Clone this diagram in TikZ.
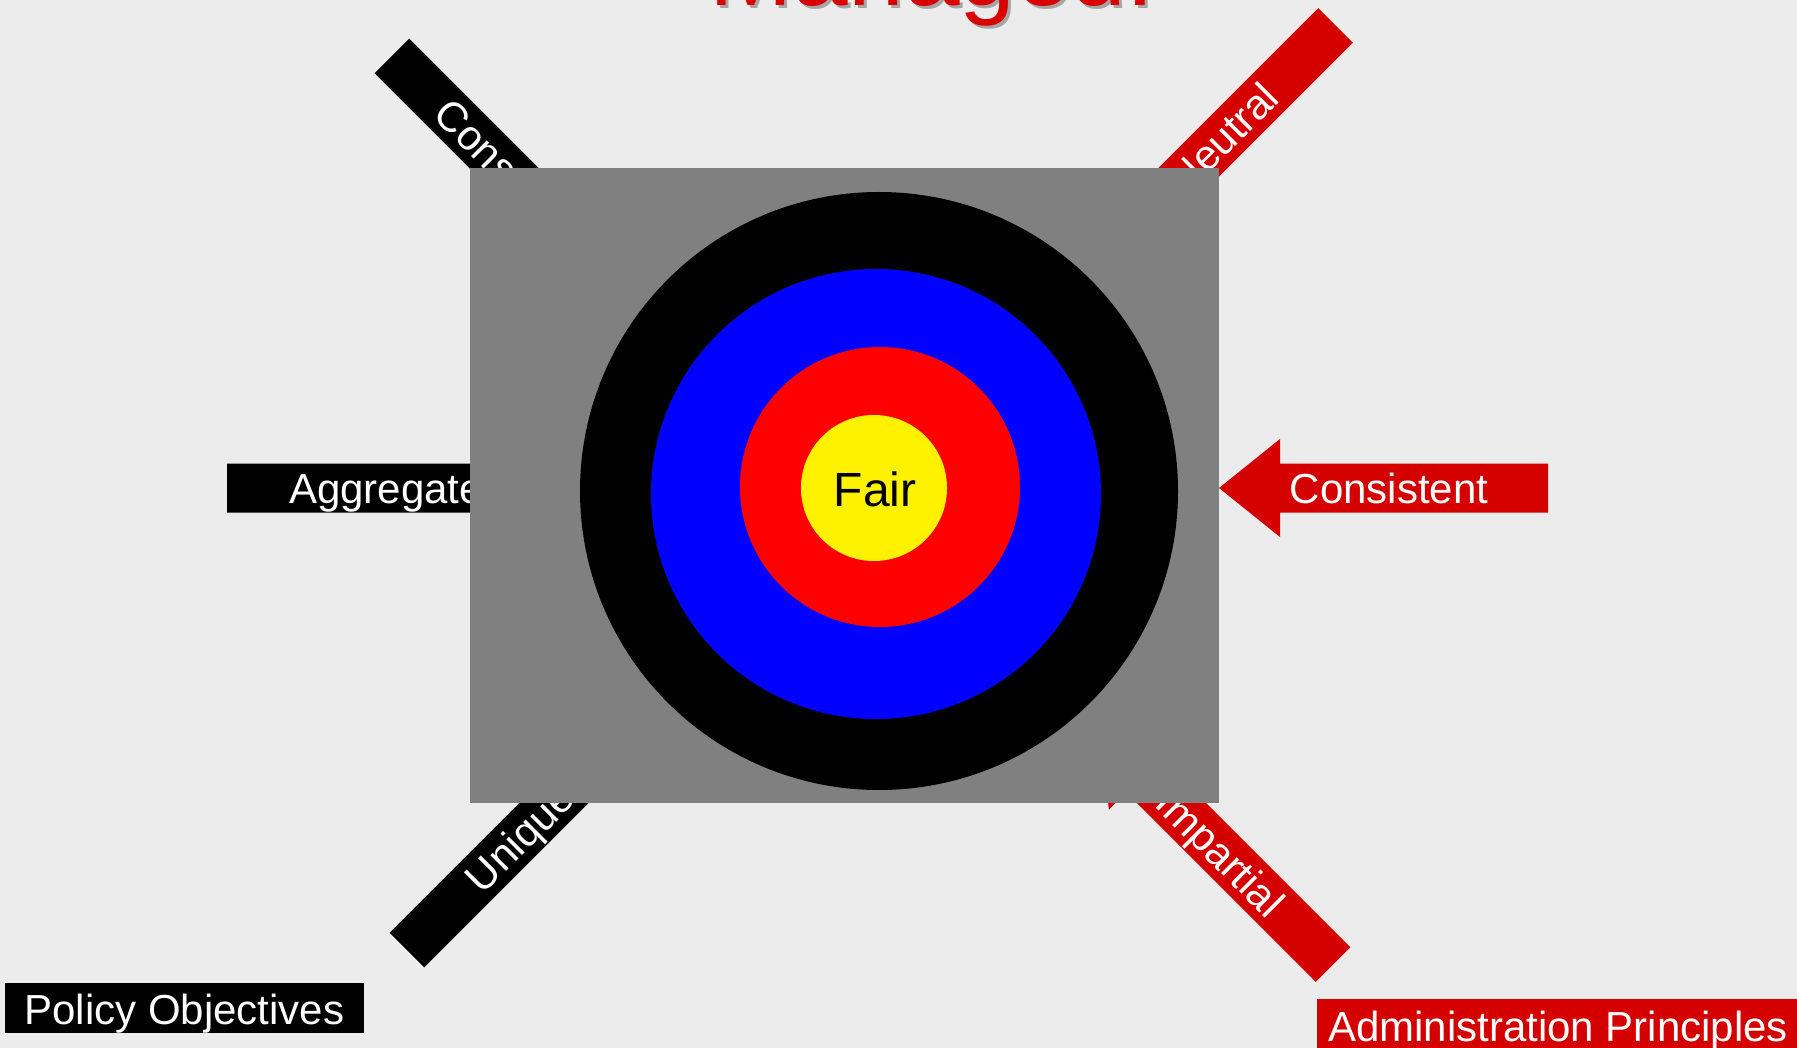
\documentclass[tikz,border=0pt]{standalone}
\usepackage{fontspec}
\setmainfont{Liberation Sans}
\definecolor{bgc}{RGB}{236,236,236}
\definecolor{arrred}{RGB}{212,0,0}
\definecolor{boxgray}{RGB}{128,128,128}
\definecolor{ttlred}{RGB}{218,0,0}
\definecolor{shadowgray}{RGB}{165,165,165}
\newcommand{\mkarrow}[4]{\fill[#4, shift={(#1,#2)}, rotate=#3] (0,-24.5) -- (268,-24.5) -- (268,-49) -- (329,0) -- (268,49) -- (268,24.5) -- (0,24.5) -- cycle;}
\tikzset{
  lbl/.style={text=white, inner sep=0pt, font=\fontsize{42}{50}\selectfont},
  ttl/.style={inner sep=0pt, anchor=base, font=\fontsize{100}{120}\selectfont}
}
\begin{document}
\begin{tikzpicture}[x=1pt,y=-1pt]
\useasboundingbox (0,0) rectangle (1797,1048);
\fill[bgc] (0,0) rectangle (1797,1048);
% title
\node[ttl, text=shadowgray] (titleshadow) at (935,9) {Managed.};
\node[ttl, text=ttlred] (title) at (932,6) {Managed.};
% arrows
\mkarrow{1548}{488}{180}{arrred}
\mkarrow{227}{488}{0}{black}
\mkarrow{392}{56}{-45}{black}
\mkarrow{407}{950}{45}{black}
\mkarrow{1335.5}{25.5}{-135}{arrred}
\mkarrow{1333}{964.5}{135}{arrred}
\node[lbl, anchor=base] (consistent) at (1389,503) {Consistent};
\node[lbl, anchor=base] (aggregate) at (386,503) {Aggregate};
\node[lbl, anchor=base west, rotate=-45] (cons) at (431.6,116.8) {Cons};
\node[lbl, anchor=base, rotate=45] (unique) at (530,848.2) {Unique};
\node[lbl, anchor=base, rotate=45] (neutral) at (1233.7,148.5) {Neutral};
\node[lbl, anchor=base, rotate=-45] (impartial) at (1210,862.7) {Impartial};
% target
\fill[boxgray] (470,168) rectangle (1219,803);
\fill[black] (879,491) circle[radius=299pt];
\fill[blue] (876,494) circle[radius=225pt];
\fill[red] (880,487) circle[radius=140pt];
\fill[yellow] (874,488) circle[radius=73pt];
\node[inner sep=0pt, anchor=base, font=\fontsize{48}{56}\selectfont] (fair) at (875,506) {Fair};
% legend labels
\fill[black] (5,983) rectangle (364,1033);
\node[lbl, anchor=base] (policy) at (184.5,1024) {Policy Objectives};
\fill[arrred] (1317,999) rectangle (1810,1052);
\node[lbl, anchor=base west] (admin) at (1328,1041) {Administration Principles};
\end{tikzpicture}
\end{document}
